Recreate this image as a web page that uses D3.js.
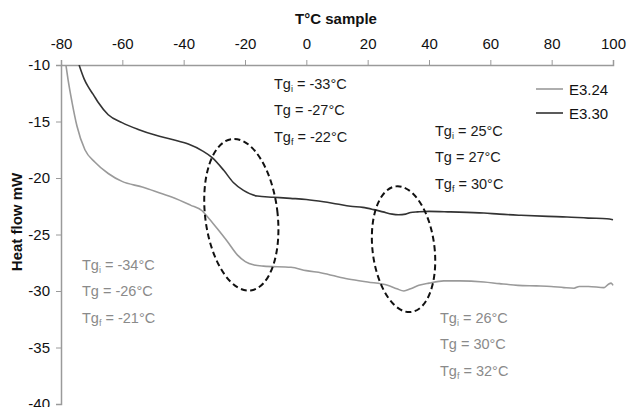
<!DOCTYPE html>
<html><head><meta charset="utf-8">
<script src="https://cdn.jsdelivr.net/npm/d3@7"></script>
<style>
body{margin:0;background:#fff;}
svg{display:block;font-family:Arial,"Liberation Sans",sans-serif;}
</style></head>
<body><svg id="c" width="628" height="407"></svg>
<script>
// ---- data ----
const xTicks = [-80,-60,-40,-20,0,20,40,60,80,100];
const yTicks = [-10,-15,-20,-25,-30,-35,-40];
const seriesNames = ["E3.24","E3.30"];
// E3.24 (grey)
const e324T = [-78.4,-77.7,-76.4,-74.8,-72.2,-68.9,-64.6,-60.1,-53.5,-47,-43.7,-37.8,-34,-32.3,-29,-25.8,-22.5,-19.9,-17,-14,-5,0,5,12.8,20,26.5,29.5,31.8,34,36.7,40,44.8,50,57.9,63,69,75,79.8,84,87.3,89,92,97.1,98.5,99.4,100];
const e324V = [-10,-11.3,-13.3,-15.4,-17.5,-18.6,-19.6,-20.3,-20.8,-21.4,-21.7,-22.4,-22.9,-23.4,-24.5,-25.6,-26.8,-27.4,-27.7,-27.8,-27.9,-28.2,-28.4,-28.9,-29.2,-29.5,-29.8,-30.0,-29.8,-29.5,-29.3,-29.1,-29.1,-29.2,-29.35,-29.5,-29.55,-29.6,-29.7,-29.75,-29.6,-29.6,-29.7,-29.4,-29.3,-29.5];
// E3.30 (black)
const e330T = [-74.1,-72.5,-71.2,-69.5,-67.9,-64.6,-60.1,-54.8,-49.3,-43.7,-38.5,-33.9,-30.7,-27,-23.8,-20.5,-16,-10.7,-5.2,0,5.6,10,14.4,18.4,22,25,28,30,32.4,34,36.3,40,47,57.9,63,70,78.8,85,91.9,98,100];
const e330V = [-10,-11.2,-11.9,-12.6,-13.3,-14.4,-15.1,-15.7,-16.2,-16.6,-17.0,-17.6,-18.2,-19.3,-20.4,-21.1,-21.6,-21.7,-21.8,-21.9,-22.1,-22.3,-22.5,-22.6,-22.8,-23.0,-23.2,-23.25,-23.2,-23.05,-23.0,-22.95,-23.0,-23.1,-23.2,-23.3,-23.4,-23.45,-23.55,-23.6,-23.7];
// dashed ellipses: centre (T, mW), radii (T units, mW units)
const ellCx = [-21.2, 31.7];
const ellCy = [-23.25, -26.3];
const ellRx = [11.8, 10.1];
const ellRy = [6.75, 5.6];
// annotations: [base, subscript, rest]
const annDark1 = [["Tg","i"," = -33°C"],["Tg",""," = -27°C"],["Tg","f"," = -22°C"]];
const annDark2 = [["Tg","i"," = 25°C"],["Tg",""," = 27°C"],["Tg","f"," = 30°C"]];
const annGrey1 = [["Tg","i"," = -34°C"],["Tg",""," = -26°C"],["Tg","f"," = -21°C"]];
const annGrey2 = [["Tg","i"," = 26°C"],["Tg",""," = 30°C"],["Tg","f"," = 32°C"]];

// ---- chart ----
const svg = d3.select("#c");
const x = d3.scaleLinear().domain([-80,100]).range([61,613]);
const y = d3.scaleLinear().domain([-10,-40]).range([65,404]);
const axisCol = "#9a9a9a";

const gx = svg.append("g").attr("transform","translate(0,65)")
  .call(d3.axisTop(x).tickValues(xTicks).tickSize(5).tickPadding(11).tickFormat(d3.format("d")));
const gy = svg.append("g").attr("transform","translate(61,0)")
  .call(d3.axisLeft(y).tickValues(yTicks).tickSize(5).tickPadding(6).tickFormat(d3.format("d")));
[gx,gy].forEach(g=>{
  g.select(".domain").attr("stroke",axisCol).attr("stroke-width",1.5);
  g.selectAll(".tick line").attr("stroke",axisCol).attr("stroke-width",1);
  g.selectAll(".tick text").attr("fill","#111").style("font-size","15px").style("font-family","Arial, 'Liberation Sans', sans-serif");
});
gx.selectAll(".tick text").text(d=>d<0?"-"+Math.abs(d):d);
gy.selectAll(".tick text").text(d=>d<0?"-"+Math.abs(d):d);

svg.append("text").attr("x",336).attr("y",24).attr("text-anchor","middle")
  .style("font-size","15px").style("font-weight","bold").attr("fill","#111").text("T°C sample");
svg.append("text").attr("transform","translate(22,222) rotate(-90)").attr("text-anchor","middle")
  .style("font-size","15px").style("font-weight","bold").attr("fill","#111").text("Heat flow mW");

const clip = svg.append("clipPath").attr("id","pc").append("rect")
  .attr("x",61).attr("y",65).attr("width",560).attr("height",350);

const line = d3.line().x(d=>x(d[0])).y(d=>y(d[1])).curve(d3.curveMonotoneX);
const greyData = d3.zip(e324T,e324V);
const darkData = d3.zip(e330T,e330V);
const plot = svg.append("g").attr("clip-path","url(#pc)");
plot.append("path").datum(greyData).attr("d",line).attr("fill","none").attr("stroke","#9a9a9a").attr("stroke-width",1.6);
plot.append("path").datum(darkData).attr("d",line).attr("fill","none").attr("stroke","#333").attr("stroke-width",1.6);

// ellipses
d3.range(ellCx.length).forEach(i=>{
  const cx = x(ellCx[i]), cy = y(ellCy[i]);
  svg.append("ellipse").attr("cx",cx).attr("cy",cy)
    .attr("rx",x(ellRx[i])-x(0)).attr("ry",y(-ellRy[i])-y(0))
    .attr("transform",`rotate(-7 ${cx} ${cy})`)
    .attr("fill","none").attr("stroke","#111").attr("stroke-width",2).attr("stroke-dasharray","6,3.5");
});

// legend
const legY = [89,113], legCol = ["#9a9a9a","#333"];
seriesNames.forEach((n,i)=>{
  svg.append("line").attr("x1",536).attr("x2",563).attr("y1",legY[i]).attr("y2",legY[i])
    .attr("stroke",legCol[i]).attr("stroke-width",1.6);
  svg.append("text").attr("x",569).attr("y",legY[i]+5.5).style("font-size","15px").attr("fill","#111").text(n);
});

// annotations
function ann(rows, x0, y0, col){
  rows.forEach((r,i)=>{
    const t = svg.append("text").attr("x",x0).attr("y",y0+i*26.8).style("font-size","14.5px").attr("fill",col);
    t.append("tspan").text(r[0]);
    if(r[1]) t.append("tspan").attr("dy",3).style("font-size","9px").text(r[1]);
    t.append("tspan").attr("dy",r[1]?-3:0).text(r[2]);
  });
}
ann(annDark1, 274, 88.5, "#1a1a1a");
ann(annDark2, 435, 135.5, "#1a1a1a");
ann(annGrey1, 82, 269.5, "#8a8a8a");
ann(annGrey2, 440, 322.5, "#8a8a8a");
</script></body></html>
